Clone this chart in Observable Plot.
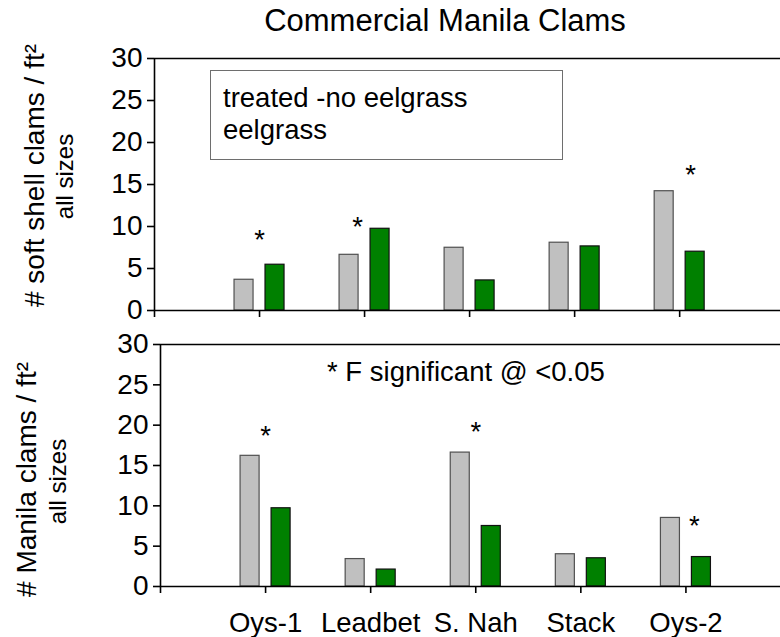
<!DOCTYPE html>
<html>
<head>
<meta charset="utf-8">
<script src="https://cdn.jsdelivr.net/npm/d3@7"></script>
<script src="https://cdn.jsdelivr.net/npm/@observablehq/plot@0.6"></script>
<style>
  html, body { margin: 0; padding: 0; background: #fff; }
  #wrap { position: relative; width: 780px; height: 637px; overflow: hidden;
          font-family: "Liberation Sans", Arial, sans-serif; color: #000; }
  .abs { position: absolute; }
  #title { left: 110px; width: 670px; top: 5px; text-align: center; font-size: 31px; line-height: 31px; white-space: nowrap; }
  #legend { left: 210px; top: 70px; width: 351px; height: 88px; border: 1.5px solid #6e6e6e; background: #fff;
            font-size: 27.5px; line-height: 32px; box-sizing: content-box; }
  #legend div { position: absolute; left: 12px; white-space: nowrap; }
  #note { left: 327px; top: 356px; font-size: 27.5px; line-height: 32px; white-space: nowrap; }
</style>
</head>
<body>
<div id="wrap"></div>
<script>
// ---------- data ----------
const title = "Commercial Manila Clams";
const sites = ["Oys-1", "Leadbet", "S. Nah", "Stack", "Oys-2"];
const seriesNames = ["treated -no eelgrass", "eelgrass"];

// soft shell clams / ft² (top panel)
const softTreated  = [3.66, 6.63, 7.47, 8.07, 14.2];
const softEelgrass = [5.45, 9.73, 3.58, 7.63, 7.0];
const softStarSites   = ["Oys-1", "Leadbet", "Oys-2"];
const softStarHeights = [9.2, 10.7, 16.9];

// Manila clams / ft² (bottom panel)
const manilaTreated  = [16.2, 3.4, 16.6, 4.0, 8.5];
const manilaEelgrass = [9.7, 2.1, 7.5, 3.5, 3.65];
const manilaStarSites   = ["Oys-1", "S. Nah", "Oys-2"];
const manilaStarHeights = [19.5, 19.95, 8.4];

const yTicks = [0, 5, 10, 15, 20, 25, 30];
const note = "* F significant @ <0.05";
const topLabel = "# soft shell clams / ft²";
const bottomLabel = "# Manila clams / ft²";
const subLabel = "all sizes";

// ---------- layout / style ----------
const FONT = "'Liberation Sans', Arial, sans-serif";
const GRAY = "#c0c0c0", GREEN = "#008000";
const starNudgeTop = {"Oys-1": 0, "Leadbet": -0.067, "Oys-2": 0.105};
const starNudgeBottom = {"Oys-1": 0, "S. Nah": 0, "Oys-2": 0.08};

function panel(cfg) {
  const rows = sites.map((s, k) => ({i: k + 1, site: s, t: cfg.treated[k], e: cfg.eelgrass[k]}));
  const stars = cfg.starSites.map((s, k) => ({x: sites.indexOf(s) + 1 + (cfg.nudge[s] || 0), y: cfg.starHeights[k]}));
  return Plot.plot({
    width: 780,
    height: cfg.height,
    marginLeft: cfg.marginLeft,
    marginRight: 0,
    marginTop: cfg.marginTop,
    marginBottom: cfg.marginBottom,
    style: {fontFamily: FONT, fontSize: "27.5px", color: "#000", background: "transparent", overflow: "visible"},
    x: {type: "linear", domain: cfg.xDomain, axis: null},
    y: {domain: [0, 30], axis: null},
    marks: [
      Plot.rect(rows, {x1: d => d.i - 0.238, x2: d => d.i - 0.057, y1: 0, y2: "t", fill: GRAY, stroke: "#505050", strokeWidth: 1.2}),
      Plot.rect(rows, {x1: d => d.i + 0.057, x2: d => d.i + 0.238, y1: 0, y2: "e", fill: GREEN, stroke: "#111", strokeWidth: 1.2}),
      Plot.ruleY([30], {stroke: "#000", strokeWidth: 1.6}),
      Plot.ruleY([0], {stroke: "#000", strokeWidth: 1.6}),
      Plot.ruleX([0], {y1: 0, y2: 30, stroke: "#000", strokeWidth: 1.6}),
      Plot.axisY({ticks: yTicks, tickSize: 7, tickPadding: 5, fontSize: 28, strokeWidth: 1.6, label: null, tickFormat: d => String(d)}),
      Plot.axisX({ticks: [0, 1, 2, 3, 4, 5], tickSize: 7, tickPadding: 19, fontSize: 27.5, strokeWidth: 1.6, label: null,
                  tickFormat: d => cfg.showLabels ? (sites[d - 1] || "") : ""}),
      Plot.text(stars, {x: "x", y: "y", text: () => "*", fontSize: 27.5, dy: 7}),
      Plot.text([cfg.label], {frameAnchor: "left", text: d => d, rotate: -90, lineAnchor: "bottom", textAnchor: "middle",
                              fontSize: 28, dx: cfg.labelDx, dy: cfg.labelDy}),
      Plot.text([subLabel], {frameAnchor: "left", text: d => d, rotate: -90, lineAnchor: "bottom", textAnchor: "middle",
                             fontSize: 24, dx: cfg.subDx, dy: cfg.subDy})
    ]
  });
}

const wrap = document.getElementById("wrap");

const topPlot = panel({
  treated: softTreated, eelgrass: softEelgrass,
  starSites: softStarSites, starHeights: softStarHeights, nudge: starNudgeTop,
  label: topLabel, showLabels: false,
  height: 290, marginTop: 28, marginBottom: 10, marginLeft: 154, xDomain: [0, 5.96],
  labelDx: -111, labelDy: -9, subDx: -82, subDy: -8
});
const bottomPlot = panel({
  treated: manilaTreated, eelgrass: manilaEelgrass,
  starSites: manilaStarSites, starHeights: manilaStarHeights, nudge: starNudgeBottom,
  label: bottomLabel, showLabels: true,
  height: 307, marginTop: 14, marginBottom: 51, marginLeft: 160, xDomain: [0, 5.90],
  labelDx: -125, labelDy: 14, subDx: -95, subDy: 16
});

function place(node, top) {
  const d = document.createElement("div");
  d.className = "abs";
  d.style.left = "0px";
  d.style.top = top + "px";
  d.appendChild(node);
  wrap.appendChild(d);
}
place(topPlot, 30);
place(bottomPlot, 330);

const t = document.createElement("div");
t.id = "title"; t.className = "abs"; t.textContent = title;
wrap.appendChild(t);

const lg = document.createElement("div");
lg.id = "legend"; lg.className = "abs";
seriesNames.forEach((name, k) => {
  const l = document.createElement("div");
  l.textContent = name;
  l.style.top = (11 + k * 32) + "px";
  lg.appendChild(l);
});
wrap.appendChild(lg);

const n = document.createElement("div");
n.id = "note"; n.className = "abs"; n.textContent = note;
wrap.appendChild(n);
</script>
</body>
</html>
